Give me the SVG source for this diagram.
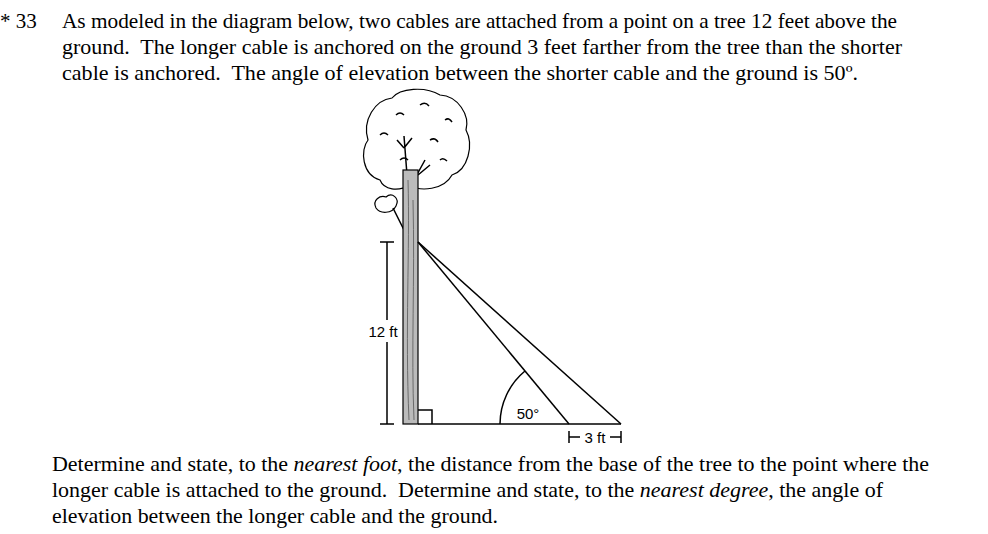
<svg xmlns="http://www.w3.org/2000/svg" width="988" height="534" viewBox="0 0 988 534">
<style>
.t{font-family:"Liberation Serif",serif;font-size:21px;fill:#000;white-space:pre}
.l{font-family:"Liberation Sans",sans-serif;font-size:15px;fill:#000}
.s{stroke:#000;stroke-width:1.5;fill:none}
.c{stroke:#000;stroke-width:1.2;fill:#fff}
</style>
<rect width="988" height="534" fill="#fff"/>
<g id="question">
<text class="t" x="0" y="28">* 33</text>
<text class="t" x="62" y="28" textLength="835" lengthAdjust="spacingAndGlyphs">As modeled in the diagram below, two cables are attached from a point on a tree 12 feet above the</text>
<text class="t" x="62" y="54" textLength="840" lengthAdjust="spacingAndGlyphs">ground.  The longer cable is anchored on the ground 3 feet farther from the tree than the shorter</text>
<text class="t" x="62" y="80" textLength="796" lengthAdjust="spacingAndGlyphs">cable is anchored.  The angle of elevation between the shorter cable and the ground is 50º.</text>
</g>
<g id="tree">
<path class="c" d="M380,180 C362,175 360,150 368,140 C362,120 375,100 392,98 C400,88 425,86 440,95 C458,96 470,115 466,130 C474,145 468,170 452,175 C444,190 420,192 410,185 C398,192 384,190 380,180 Z"/>
<path class="s" d="M396,115 q4,-4 8,0 M420,105 q5,-4 9,1 M445,120 q4,-3 7,2 M380,135 q4,-4 8,0 M430,140 q5,-3 8,2 M400,160 q4,-4 8,0 M440,160 q3,-3 7,1" stroke-width="1"/>
<path class="s" d="M407,175 L404,136 M404,148 L397,140 M404,148 L412,138 M414,180 L425,160 M418,175 L430,165" stroke-width="1.2"/>
<path class="c" d="M376,208 C372,200 380,195 386,197 C392,192 400,198 396,206 C392,214 380,214 376,208 Z"/>
<path class="s" d="M393,208 L404,230" stroke-width="1.2"/>
<rect x="403" y="170" width="15" height="254" fill="#bbb" stroke="#000" stroke-width="1.2"/>
<path d="M408,180 C410,250 405,330 409,420 M413,200 C415,280 411,350 414,420" stroke="#555" fill="none" stroke-width="0.8"/>
</g>
<g id="ground">
<line class="s" x1="418" y1="424" x2="621" y2="424"/>
<path class="s" d="M418,410 H432 V424" stroke-width="1"/>
</g>
<g id="connectors">
<line class="s" x1="418" y1="242" x2="569" y2="424"/>
<line class="s" x1="418" y1="242" x2="621" y2="424"/>
<path class="s" d="M500,424 A69,69 0 0 1 525,371" stroke-width="1.2"/>
</g>
<g id="dimensions">
<path class="s" d="M387,242 V320 M387,342 V424 M380,242 H394 M380,424 H394" stroke-width="1.2"/>
<text class="l" x="383" y="337" text-anchor="middle">12 ft</text>
<text class="l" x="528" y="419" text-anchor="middle">50°</text>
<path class="s" d="M569,431 V443 M569,437 H580 M610,437 H621 M621,431 V443" stroke-width="1.2"/>
<text class="l" x="595" y="443" text-anchor="middle">3 ft</text>
</g>
<g id="prompt">
<text class="t" x="52" y="471" textLength="877" lengthAdjust="spacingAndGlyphs">Determine and state, to the <tspan font-style="italic">nearest foot</tspan>, the distance from the base of the tree to the point where the</text>
<text class="t" x="52" y="497" textLength="831" lengthAdjust="spacingAndGlyphs">longer cable is attached to the ground.  Determine and state, to the <tspan font-style="italic">nearest degree</tspan>, the angle of</text>
<text class="t" x="52" y="523" textLength="446" lengthAdjust="spacingAndGlyphs">elevation between the longer cable and the ground.</text>
</g>
</svg>
